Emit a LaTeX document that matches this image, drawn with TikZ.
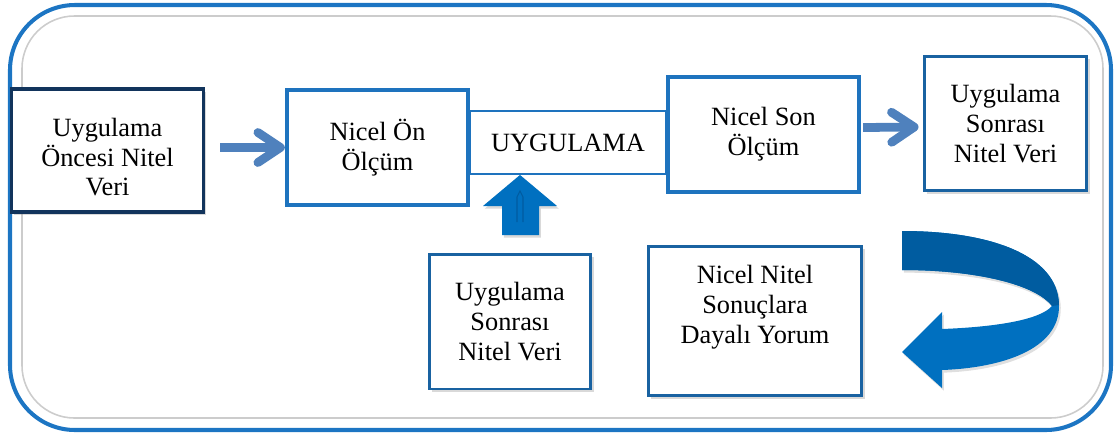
\documentclass[tikz,border=0pt]{standalone}
\usepackage{fontspec}
\setmainfont{Liberation Serif}
\usetikzlibrary{calc,positioning,arrows.meta,shadows}
\definecolor{frameblue}{RGB}{28,117,195}
\definecolor{boxblue}{RGB}{30,115,190}
\definecolor{navy}{RGB}{18,52,92}
\definecolor{chevblue}{RGB}{79,129,189}
\definecolor{arrblue}{RGB}{0,112,192}
\definecolor{arrdark}{RGB}{0,92,160}
\definecolor{grey}{gray}{0.8}

\begin{document}
\begin{tikzpicture}[x=0.02cm,y=-0.02cm]

\tikzset{box/.style={draw=boxblue,fill=white,line width=2.5pt,align=center,inner sep=0pt,font=\fontsize{15}{17}\selectfont},
thinbox/.style={box,line width=1.7pt,draw=boxblue!85!black,drop shadow={shadow xshift=1.5pt,shadow yshift=-1.5pt,opacity=0.3}},
chev/.style={draw=chevblue,line width=5pt,-{Straight Barb[length=0.45cm,width=0.6cm,round]}}}

\useasboundingbox (0,0) rectangle (1120,437);

% Frame
\draw[frameblue,line width=2.3pt,rounded corners=1.3cm] (10,5) rectangle (1111,430);
\draw[grey,line width=0.9pt,rounded corners=1.05cm] (22,16) rectangle (1103,418);

% top row
\node[box,draw=navy,line width=2.2pt,minimum width=3.84cm,minimum height=2.46cm,text height=52pt,drop shadow={shadow xshift=1.5pt,shadow yshift=-1.5pt,opacity=0.3}] (pre) at (107.5,150.5) {Uygulama\\Öncesi Nitel\\Veri};
\node[box,line width=1.1pt,minimum width=3.92cm,minimum height=1.26cm] (uyg) at (568,142.5) {UYGULAMA};
\node[box,minimum width=3.62cm,minimum height=2.3cm] (on) at (377.5,147.5) {Nicel Ön\\Ölçüm};
\node[box,minimum width=3.82cm,minimum height=2.3cm] (son) at (763.5,134.5) {Nicel Son\\Ölçüm};
\node[thinbox,minimum width=3.26cm,minimum height=2.7cm] (sonra) at (1005.5,123.5) {Uygulama\\Sonrası\\Nitel Veri};

% bottom row
\node[thinbox,minimum width=3.24cm,minimum height=2.7cm] (veri) at (510,321.5) {Uygulama\\Sonrası\\Nitel Veri};
\node[thinbox,minimum width=4.28cm,minimum height=3cm,text depth=19pt] (yorum) at (755,321) {Nicel Nitel\\Sonuçlara\\Dayalı Yorum};

% Arrows
\draw[chev] ($(pre.east |- on.west)+(15,0)$) -- (on.west);
\draw[chev] ($(son.east)+(2,-7)$) -- ($(sonra.west)+(-4,3.5)$);

% block arrow up
\fill[arrblue,drop shadow={shadow xshift=1pt,shadow yshift=-1.5pt,opacity=0.3}] (uyg.south -| 520,0) -- (557,206) -- (539,206) -- (539,235) -- (502,235) -- (502,206) -- (483,206) -- cycle;
\draw[arrdark,line width=0.6pt] (517,222) -- (517,197) -- (520,191) -- (523,197) -- (523,222);

% curved arrow
\fill[arrblue,drop shadow={shadow xshift=1pt,shadow yshift=-1.5pt,opacity=0.25}] (902,231) .. controls (990,231) and (1058,255) .. (1059,305)
  .. controls (1060,350) and (1000,368) .. (942,370) -- (942,388) -- (902,352) -- (942,312) -- (942,329)
  .. controls (995,327) and (1040,320) .. (1052,306)
  .. controls (1035,284) and (975,270) .. (902,270) -- cycle;
\fill[arrdark] (902,231) .. controls (990,231) and (1058,255) .. (1059,305) -- (1052,306)
  .. controls (1035,284) and (975,270) .. (902,270) -- cycle;

\end{tikzpicture}
\end{document}
